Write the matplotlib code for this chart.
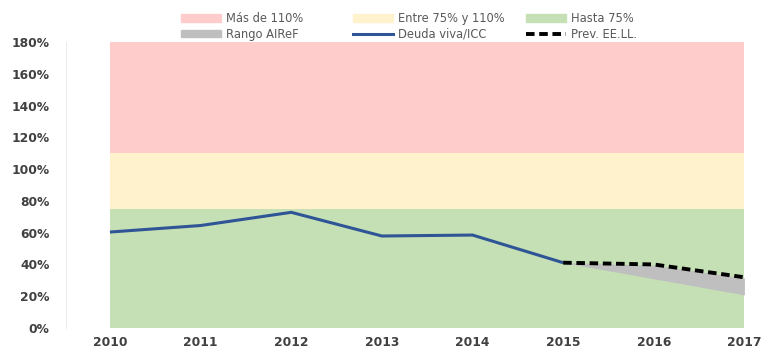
import matplotlib
matplotlib.use("Agg")
import matplotlib.pyplot as plt
from matplotlib.patches import Patch
from matplotlib.lines import Line2D

years = ["2010", "2011", "2012", "2013", "2014", "2015", "2016", "2017"]
deuda_viva = [60.4, 64.5, 72.8, 57.9, 58.5, 41.1]          # Deuda viva/ICC, 2010-2015
prev_years = ["2015", "2016", "2017"]
prev_eell = [41.1, 40.0, 31.9]                              # Prev. EE.LL.
rango_sup = [41.1, 39.5, 31.5]                              # Rango AIReF, upper
rango_inf = [41.1, 31.0, 20.8]                              # Rango AIReF, lower
band_hasta = 75
band_entre = 110
band_top = 180
y_ticks = [0, 20, 40, 60, 80, 100, 120, 140, 160, 180]

c_red = "#FFCCCC"
c_yellow = "#FFF2CC"
c_green = "#C5E0B4"
c_gray = "#BFBFBF"
c_blue = "#2F5597"

plt.rcParams["font.family"] = ["DejaVu Sans"]

fig = plt.figure(figsize=(7.81, 3.48), dpi=100)
ax = fig.add_axes([66 / 781, 1 - 328 / 348, (768 - 66) / 781, (328 - 42) / 348])

x = list(range(len(years)))
xp = [years.index(y) for y in prev_years]
xd = x[:len(deuda_viva)]

ax.fill_between(x, band_entre, band_top, color=c_red, lw=0, zorder=1)
ax.fill_between(x, band_hasta, band_entre, color=c_yellow, lw=0, zorder=1)
ax.fill_between(x, 0, band_hasta, color=c_green, lw=0, zorder=1)
ax.fill_between(xp, rango_inf, rango_sup, color=c_gray, lw=0, zorder=2)
ax.plot(xd, deuda_viva, color=c_blue, lw=2.2, zorder=3, solid_capstyle="butt")
ax.plot(xp, prev_eell, color="black", lw=2.8, ls=(0, (2.2, 1.2)), zorder=4)

ax.set_xlim(-0.485, 7.26)
ax.set_ylim(0, 180)
ax.set_yticks(y_ticks)
ax.set_yticklabels([f"{v}%" for v in y_ticks])
ax.set_xticks(x)
ax.set_xticklabels(years)

for lab in ax.get_yticklabels() + ax.get_xticklabels():
    lab.set_fontweight("bold")
    lab.set_color("#404040")
    lab.set_fontsize(8.8)
ax.tick_params(axis="both", length=0)
ax.tick_params(axis="y", pad=12)
ax.tick_params(axis="x", pad=6)

for s in ["top", "right", "bottom"]:
    ax.spines[s].set_visible(False)
ax.spines["left"].set_color("#EDEDED")
ax.spines["left"].set_linewidth(0.8)

cols = [
    ([Patch(color=c_red), Patch(color=c_gray)], ["Más de 110%", "Rango AIReF"], 181),
    ([Patch(color=c_yellow), Line2D([], [], color=c_blue, lw=2.2)],
     ["Entre 75% y 110%", "Deuda viva/ICC"], 353),
    ([Patch(color=c_green), Line2D([], [], color="black", lw=2.8, ls=(0, (2.2, 1.2)))],
     ["Hasta 75%", "Prev. EE.LL."], 526),
]
for handles, labels, xpix in cols:
    leg = fig.legend(handles, labels, loc="upper left",
                     bbox_to_anchor=(xpix / 781, 1 - 12 / 348),
                     frameon=False, fontsize=8.3, handlelength=3.45, handleheight=0.6,
                     handletextpad=0.45, labelspacing=0.25, borderpad=0, borderaxespad=0)
    for t in leg.get_texts():
        t.set_color("#595959")

fig.savefig("out.png", dpi=100)
